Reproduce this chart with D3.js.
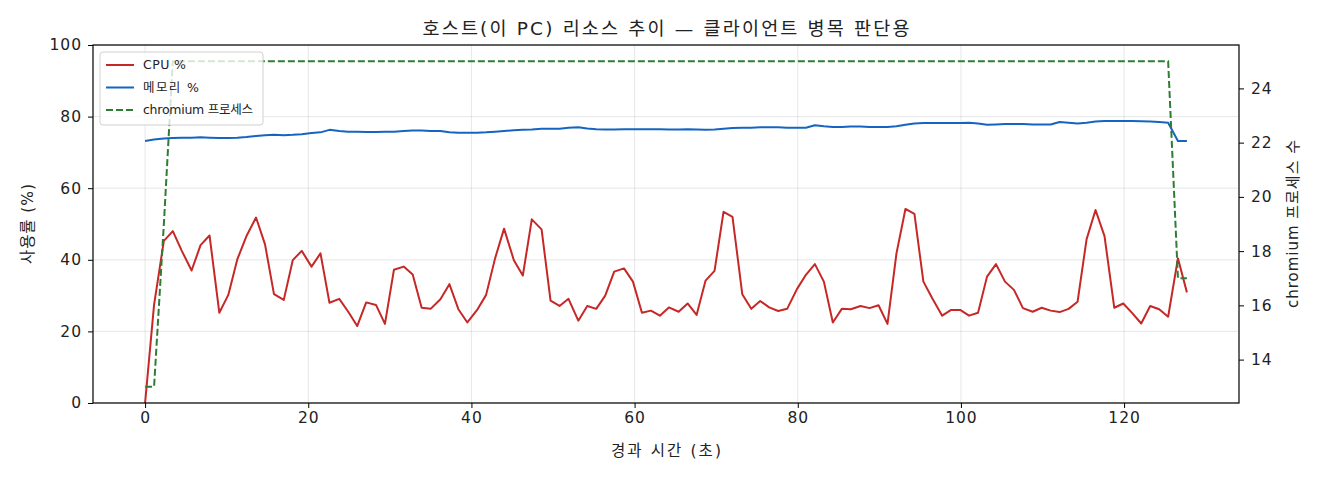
<!DOCTYPE html>
<html>
<head>
<meta charset="utf-8">
<script src="https://cdn.jsdelivr.net/npm/d3@7"></script>
<style>
  body { margin: 0; background: #fff; }
  svg text { font-family: "DejaVu Sans", "Noto Sans CJK KR", sans-serif; fill: #222; }
</style>
</head>
<body>
<div id="chart"></div>
<script>
// elapsed seconds of each sample
var times = [0.0, 1.1, 2.3, 3.4, 4.5, 5.7, 6.8, 7.9, 9.1, 10.2, 11.3, 12.4, 13.6, 14.7, 15.8, 17.0,
  18.1, 19.2, 20.4, 21.5, 22.6, 23.8, 24.9, 26.0, 27.1, 28.3, 29.4, 30.5, 31.7, 32.8, 33.9, 35.0,
  36.2, 37.3, 38.4, 39.5, 40.7, 41.8, 42.9, 44.0, 45.2, 46.3, 47.4, 48.6, 49.7, 50.8, 51.9, 53.1,
  54.2, 55.3, 56.4, 57.5, 58.7, 59.8, 60.9, 62.0, 63.1, 64.2, 65.4, 66.5, 67.6, 68.7, 69.8, 70.9,
  72.0, 73.2, 74.3, 75.4, 76.5, 77.6, 78.7, 79.9, 81.0, 82.1, 83.2, 84.3, 85.4, 86.5, 87.7, 88.8,
  89.9, 91.0, 92.1, 93.2, 94.3, 95.4, 96.5, 97.7, 98.8, 99.9, 101.0, 102.1, 103.2, 104.3, 105.4,
  106.5, 107.6, 108.8, 109.9, 111.0, 112.1, 113.2, 114.3, 115.4, 116.5, 117.6, 118.8, 119.9, 121.0,
  122.1, 123.2, 124.3, 125.4, 126.6, 127.7];

var cpu = [0, 27.4, 45.3, 48.0, 42.5, 37.0, 44.1, 46.8, 25.2, 30.2, 40.1, 46.5, 51.8, 44.3, 30.4, 28.8,
  39.9, 42.5, 38.1, 41.8, 28.0, 29.1, 25.5, 21.5, 28.1, 27.4, 22.1, 37.2, 38.1, 35.9, 26.6, 26.3,
  29.0, 33.2, 26.2, 22.5, 26.0, 30.2, 40.4, 48.7, 39.9, 35.6, 51.3, 48.5, 28.6, 27.1, 29.1, 23.0,
  27.1, 26.3, 30.0, 36.7, 37.6, 33.9, 25.2, 25.8, 24.4, 26.7, 25.5, 27.8, 24.6, 34.2, 36.9, 53.4,
  52.0, 30.4, 26.3, 28.5, 26.7, 25.7, 26.3, 31.8, 35.8, 38.8, 33.9, 22.5, 26.3, 26.2, 27.1, 26.5,
  27.3, 22.1, 41.8, 54.2, 52.8, 33.9, 29.2, 24.4, 26.0, 26.0, 24.4, 25.2, 35.3, 38.8, 33.9, 31.6,
  26.5, 25.5, 26.6, 25.8, 25.4, 26.3, 28.3, 45.7, 53.9, 46.6, 26.6, 27.8, 25.1, 22.2, 27.1, 26.2,
  24.1, 40.4, 30.9];

var memory = [73.2, 73.6, 73.9, 74.0, 74.1, 74.1, 74.2, 74.1, 74.0, 74.0, 74.1, 74.3, 74.6, 74.8, 74.9, 74.8,
  74.9, 75.1, 75.4, 75.6, 76.3, 76.0, 75.8, 75.8, 75.7, 75.7, 75.8, 75.8, 76.0, 76.1, 76.1, 76.0,
  76.0, 75.6, 75.5, 75.5, 75.5, 75.6, 75.8, 76.0, 76.2, 76.3, 76.4, 76.6, 76.6, 76.6, 76.9, 77.0,
  76.7, 76.5, 76.4, 76.4, 76.5, 76.5, 76.5, 76.5, 76.5, 76.4, 76.4, 76.5, 76.4, 76.3, 76.4, 76.6,
  76.8, 76.9, 76.9, 77.0, 77.0, 77.0, 76.9, 76.9, 76.9, 77.6, 77.3, 77.1, 77.1, 77.2, 77.2, 77.1,
  77.1, 77.1, 77.3, 77.7, 78.1, 78.2, 78.2, 78.2, 78.2, 78.2, 78.3, 78.1, 77.7, 77.8, 77.9, 77.9,
  77.9, 77.8, 77.8, 77.8, 78.5, 78.3, 78.1, 78.3, 78.6, 78.8, 78.8, 78.8, 78.8, 78.7, 78.6, 78.5,
  78.3, 73.2, 73.2];

var procs = [13, 13, 19, 25, 25, 25, 25, 25, 25, 25, 25, 25, 25, 25, 25, 25,
  25, 25, 25, 25, 25, 25, 25, 25, 25, 25, 25, 25, 25, 25, 25, 25,
  25, 25, 25, 25, 25, 25, 25, 25, 25, 25, 25, 25, 25, 25, 25, 25,
  25, 25, 25, 25, 25, 25, 25, 25, 25, 25, 25, 25, 25, 25, 25, 25,
  25, 25, 25, 25, 25, 25, 25, 25, 25, 25, 25, 25, 25, 25, 25, 25,
  25, 25, 25, 25, 25, 25, 25, 25, 25, 25, 25, 25, 25, 25, 25, 25,
  25, 25, 25, 25, 25, 25, 25, 25, 25, 25, 25, 25, 25, 25, 25, 25,
  25, 17, 17];

var xTicks = [0, 20, 40, 60, 80, 100, 120];
var leftTicks = [0, 20, 40, 60, 80, 100];
var rightTicks = [14, 16, 18, 20, 22, 24];
var seriesNames = ["CPU %", "메모리 %", "chromium 프로세스"];

var width = 1320, height = 480;
var margin = { top: 45, right: 81, bottom: 77, left: 93 };
var plotW = width - margin.left - margin.right;
var plotH = height - margin.top - margin.bottom;

var svg = d3.select("#chart")
  .append("svg")
  .attr("width", width)
  .attr("height", height);

var g = svg.append("g")
  .attr("transform", "translate(" + margin.left + "," + margin.top + ")");

// matplotlib style 5% padding on x
var xMax = d3.max(times);
var xPad = xMax * 0.05;
var x = d3.scaleLinear().domain([-xPad, xMax + xPad]).range([0, plotW]);
var yLeft = d3.scaleLinear().domain([0, 100]).range([plotH, 0]);
var pMin = d3.min(procs), pMax = d3.max(procs);
var pPad = (pMax - pMin) * 0.05;
var yRight = d3.scaleLinear().domain([pMin - pPad, pMax + pPad]).range([plotH, 0]);

// grid
g.selectAll(".gx")
  .data(xTicks)
  .enter()
  .append("line")
  .attr("x1", function(d) { return x(d); })
  .attr("x2", function(d) { return x(d); })
  .attr("y1", 0)
  .attr("y2", plotH)
  .attr("stroke", "#b0b0b0")
  .attr("stroke-opacity", 0.3)
  .attr("stroke-width", 1);

g.selectAll(".gy")
  .data(leftTicks)
  .enter()
  .append("line")
  .attr("x1", 0)
  .attr("x2", plotW)
  .attr("y1", function(d) { return yLeft(d); })
  .attr("y2", function(d) { return yLeft(d); })
  .attr("stroke", "#b0b0b0")
  .attr("stroke-opacity", 0.3)
  .attr("stroke-width", 1);

g.append("clipPath").attr("id", "clip")
  .append("rect").attr("width", plotW).attr("height", plotH + 2).attr("y", -1);

var lineLeft = d3.line()
  .x(function(d, i) { return x(times[i]); })
  .y(function(d) { return yLeft(d); });

var lineRight = d3.line()
  .x(function(d, i) { return x(times[i]); })
  .y(function(d) { return yRight(d); });

var lines = g.append("g").attr("clip-path", "url(#clip)");

lines.append("path")
  .datum(cpu)
  .attr("d", lineLeft)
  .attr("fill", "none")
  .attr("stroke", "#c62828")
  .attr("stroke-width", 2)
  .attr("stroke-linejoin", "round");

lines.append("path")
  .datum(memory)
  .attr("d", lineLeft)
  .attr("fill", "none")
  .attr("stroke", "#1565c0")
  .attr("stroke-width", 2)
  .attr("stroke-linejoin", "round");

lines.append("path")
  .datum(procs)
  .attr("d", lineRight)
  .attr("fill", "none")
  .attr("stroke", "#2e7d32")
  .attr("stroke-width", 2)
  .attr("stroke-dasharray", "7,3");

// axes
var xAxis = g.append("g")
  .attr("transform", "translate(0," + plotH + ")")
  .call(d3.axisBottom(x).tickValues(xTicks).tickSize(5).tickPadding(4));

var lAxis = g.append("g")
  .call(d3.axisLeft(yLeft).tickValues(leftTicks).tickSize(5).tickPadding(6));

var rAxis = g.append("g")
  .attr("transform", "translate(" + plotW + ",0)")
  .call(d3.axisRight(yRight).tickValues(rightTicks).tickSize(5).tickPadding(7));

[xAxis, lAxis, rAxis].forEach(function(a) {
  a.select(".domain").remove();
  a.selectAll("line").attr("stroke", "#000").attr("stroke-width", 1);
  a.selectAll("text")
    .style("font-size", "15.5px")
    .style("letter-spacing", "1px")
    .attr("fill", "#222");
});

g.append("rect")
  .attr("width", plotW)
  .attr("height", plotH)
  .attr("fill", "none")
  .attr("stroke", "#000")
  .attr("stroke-width", 1.2);

// legend
var legendColors = ["#c62828", "#1565c0", "#2e7d32"];
var legendLengths = [43, 56, 110];
var legend = g.append("g").attr("transform", "translate(7,7)");
legend.append("rect")
  .attr("width", 163)
  .attr("height", 73)
  .attr("rx", 3)
  .attr("fill", "#fff")
  .attr("fill-opacity", 0.8)
  .attr("stroke", "#d0d0d0");

var items = legend.selectAll(".item")
  .data(seriesNames)
  .enter()
  .append("g")
  .attr("transform", function(d, i) { return "translate(6," + (13 + i * 22.5) + ")"; });

items.append("line")
  .attr("x1", 0).attr("x2", 28)
  .attr("stroke", function(d, i) { return legendColors[i]; })
  .attr("stroke-width", 2)
  .attr("stroke-dasharray", function(d, i) { return i == 2 ? "7,3" : null; });

items.append("text")
  .attr("x", 37)
  .attr("dy", "0.35em")
  .attr("textLength", function(d, i) { return legendLengths[i]; })
  .attr("lengthAdjust", "spacing")
  .style("font-size", "12.5px")
  .text(function(d) { return d; });

// titles
svg.append("text")
  .attr("x", margin.left + plotW / 2)
  .attr("y", 35)
  .attr("text-anchor", "middle")
  .attr("textLength", 487)
  .attr("lengthAdjust", "spacing")
  .style("font-size", "18.5px")
  .text("호스트(이 PC) 리소스 추이 — 클라이언트 병목 판단용");

svg.append("text")
  .attr("x", margin.left + plotW / 2)
  .attr("y", 456)
  .attr("text-anchor", "middle")
  .attr("textLength", 110)
  .attr("lengthAdjust", "spacing")
  .style("font-size", "15.5px")
  .text("경과 시간 (초)");

svg.append("text")
  .attr("transform", "translate(33," + (margin.top + plotH / 2) + ") rotate(-90)")
  .attr("text-anchor", "middle")
  .attr("textLength", 80)
  .attr("lengthAdjust", "spacing")
  .style("font-size", "15.5px")
  .text("사용률 (%)");

svg.append("text")
  .attr("transform", "translate(1298," + (margin.top + plotH / 2) + ") rotate(-90)")
  .attr("text-anchor", "middle")
  .attr("textLength", 168)
  .attr("lengthAdjust", "spacing")
  .style("font-size", "15px")
  .text("chromium 프로세스 수");
</script>
</body>
</html>
